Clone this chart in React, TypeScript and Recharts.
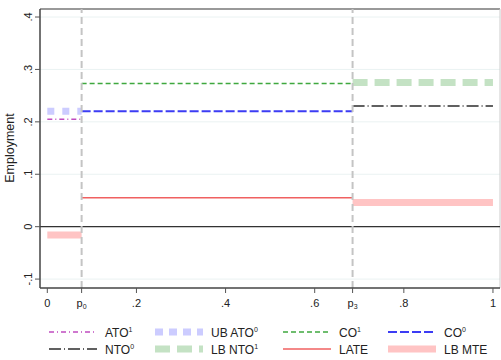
import React from 'react';
import { ComposedChart, Line, XAxis, YAxis, ReferenceLine, CartesianGrid } from 'recharts';

const P0 = 0.077;
const P3 = 0.685;

const xTicks = [0, P0, 0.2, 0.4, 0.6, P3, 0.8, 1];
const yTicks = [-0.1, 0, 0.1, 0.2, 0.3, 0.4];

// segments [from, to, value]
const ato1 = [{ x: 0, y: 0.205 }, { x: P0, y: 0.205 }];
const ubAto0 = [{ x: 0, y: 0.22 }, { x: P0, y: 0.22 }];
const co1 = [{ x: P0, y: 0.273 }, { x: P3, y: 0.273 }];
const co0 = [{ x: P0, y: 0.22 }, { x: P3, y: 0.22 }];
const nto0 = [{ x: P3, y: 0.23 }, { x: 1, y: 0.23 }];
const lbNto1 = [{ x: P3, y: 0.275 }, { x: 1, y: 0.275 }];
const late = [{ x: P0, y: 0.055 }, { x: P3, y: 0.055 }];
const lbMteLow = [{ x: 0, y: -0.016 }, { x: P0, y: -0.016 }];
const lbMteHigh = [{ x: P3, y: 0.046 }, { x: 1, y: 0.046 }];

const FONT = '"Liberation Sans", Arial, sans-serif';

const fmt = (v: number) => {
  if (v === 0) return '0';
  if (v === 1) return '1';
  const s = v.toFixed(1);
  return s.replace('0.', '.');
};

const XTick = (props: any) => {
  const { x, y, payload } = props;
  const v = payload.value;
  let content: React.ReactNode = fmt(v);
  if (Math.abs(v - P0) < 1e-6 || Math.abs(v - P3) < 1e-6) {
    content = (
      <>
        <tspan>p</tspan>
        <tspan fontSize={7} dy={2}>{Math.abs(v - P0) < 1e-6 ? '0' : '3'}</tspan>
      </>
    );
  }
  return (
    <text x={x} y={y + 12} textAnchor="middle" fontSize={11} fill="#222" fontFamily={FONT}>
      {content}
    </text>
  );
};

const YTick = (props: any) => {
  const { y, payload } = props;
  const bx = 32;
  return (
    <text
      x={bx}
      y={y}
      textAnchor="middle"
      fontSize={11}
      fill="#222"
      fontFamily={FONT}
      transform={`rotate(-90, ${bx}, ${y})`}
    >
      {fmt(payload.value)}
    </text>
  );
};

type Item = { label: string; sup?: string; color: string; width: number; dash?: string };

const legendRows: Item[][] = [
  [
    { label: 'ATO', sup: '1', color: '#c04cc0', width: 1.5, dash: '5 3 1 3' },
    { label: 'UB ATO', sup: '0', color: '#ccccff', width: 7, dash: '8 6' },
    { label: 'CO', sup: '1', color: '#3fa83f', width: 1.5, dash: '5 3' },
    { label: 'CO', sup: '0', color: '#3c3cf4', width: 2, dash: '9 3' },
  ],
  [
    { label: 'NTO', sup: '0', color: '#606060', width: 2, dash: '12 3 1 3' },
    { label: 'LB NTO', sup: '1', color: '#c4e2c4', width: 7, dash: '15 7' },
    { label: 'LATE', color: '#f06060', width: 1.5 },
    { label: 'LB MTE', color: '#ffc4c4', width: 7 },
  ],
];

const colX = [49, 155, 283, 388];
const rowY = [332, 349];

export default function App() {
  const yMax = 0.4153;
  const xMax = 1.0158;
  const common = { dot: false, isAnimationActive: false, dataKey: 'y', activeDot: false } as const;
  return (
    <div style={{ position: 'absolute', left: 0, top: 0, width: 501, height: 360, background: '#fff' }}>
      <ComposedChart width={501} height={360} margin={{ top: 9, right: 1, bottom: 42, left: 0 }}>
        <CartesianGrid horizontal vertical={false} stroke="#eaf2f2" horizontalValues={yTicks} />
        <XAxis
          type="number"
          dataKey="x"
          domain={[-0.0164, xMax]}
          ticks={xTicks}
          interval={0}
          allowDataOverflow
          height={30}
          tick={<XTick />}
          tickSize={5}
          tickLine={{ stroke: '#555' }}
          axisLine={{ stroke: '#444', strokeWidth: 1.5 }}
        />
        <YAxis
          type="number"
          domain={[-0.117, yMax]}
          ticks={yTicks}
          interval={0}
          allowDataOverflow
          width={40}
          tick={<YTick />}
          tickSize={5}
          tickLine={{ stroke: '#555' }}
          axisLine={{ stroke: '#444', strokeWidth: 1.5 }}
        />
        <ReferenceLine y={yMax} stroke="#777" strokeWidth={1.5} />
        <ReferenceLine x={xMax} stroke="#ccc" strokeWidth={1} />
        <ReferenceLine y={0} stroke="#333" strokeWidth={1.3} />
        <Line {...common} data={lbMteLow} stroke="#ffc4c4" strokeWidth={7} />
        <Line {...common} data={lbMteHigh} stroke="#ffc4c4" strokeWidth={7} />
        <Line {...common} data={ubAto0} stroke="#ccccff" strokeWidth={7} strokeDasharray="7 8" />
        <Line {...common} data={lbNto1} stroke="#c4e2c4" strokeWidth={7} strokeDasharray="15 7" />
        <Line {...common} data={ato1} stroke="#c04cc0" strokeWidth={1.5} strokeDasharray="5 3 1 3" />
        <Line {...common} data={co1} stroke="#3fa83f" strokeWidth={1.5} strokeDasharray="5 3" />
        <Line {...common} data={co0} stroke="#3c3cf4" strokeWidth={2} strokeDasharray="9 3" />
        <Line {...common} data={nto0} stroke="#606060" strokeWidth={2} strokeDasharray="12 3 1 3" />
        <Line {...common} data={late} stroke="#f06060" strokeWidth={1.5} />
        <ReferenceLine x={P0} stroke="#c4c4c4" strokeWidth={2} strokeDasharray="7 4" />
        <ReferenceLine x={P3} stroke="#c4c4c4" strokeWidth={2} strokeDasharray="7 4" />
      </ComposedChart>
      <svg width={501} height={360} style={{ position: 'absolute', left: 0, top: 0, pointerEvents: 'none' }}>
        <text
          x={14}
          y={148}
          textAnchor="middle"
          fontSize={12.5}
          fill="#222"
          fontFamily={FONT}
          transform="rotate(-90, 14, 148)"
        >
          Employment
        </text>
        {legendRows.map((row, r) =>
          row.map((it, c) => (
            <g key={`${r}-${c}`}>
              <line
                x1={colX[c]}
                x2={colX[c] + 48}
                y1={rowY[r]}
                y2={rowY[r]}
                stroke={it.color}
                strokeWidth={it.width}
                strokeDasharray={it.dash}
              />
              <text x={colX[c] + 56} y={rowY[r] + 4.5} fontSize={12} fill="#222" fontFamily={FONT}>
                {it.label}
                {it.sup && (
                  <tspan fontSize={7} dy={-5}>
                    {it.sup}
                  </tspan>
                )}
              </text>
            </g>
          ))
        )}
      </svg>
    </div>
  );
}
